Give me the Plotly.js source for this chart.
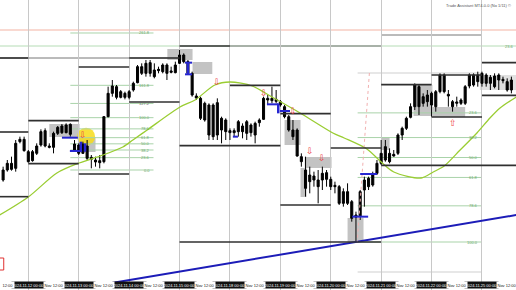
<!DOCTYPE html>
<html>
<head>
<meta charset="utf-8">
<script src="https://cdn.plot.ly/plotly-3.0.1.min.js"></script>
<style>
html,body{margin:0;padding:0;background:#fff;}
#chart{width:516px;height:290px;}
</style>
</head>
<body>
<div id="chart"></div>
<script>
// H2 candles, price in points
const opens  = [330,360,380,365,445,452,415,388,410,435,478,432,428,470,472,495,497,438,435,410,432,398,390,382,385,520,590,610,578,590,578,600,622,650,650,682,660,658,655,675,653,652,680,705,685,650,582,575,560,555,460,562,480,510,478,472,475,492,470,495,465,502,512,575,568,572,565,550,520,480,480,400,360,325,342,330,330,352,332,314,310,295,260,265,218,220,300,310,315,350,380,390,410,402,410,465,485,518,550,610,560,565,590,550,595,645,587,565,560,560,560,612,615,645,620,645,620,642,630,632,625,600];
const highs  = [370,390,400,450,460,460,420,420,440,482,485,440,475,492,498,500,500,450,440,445,450,405,400,405,522,610,630,615,600,595,600,625,675,680,690,690,680,670,680,680,670,685,720,710,690,655,590,580,565,560,560,575,520,515,485,485,510,500,510,500,505,515,580,585,610,600,570,555,525,510,485,410,400,370,355,360,370,360,340,325,315,305,320,270,235,300,340,340,355,390,450,450,425,420,470,490,520,560,620,615,590,600,595,600,650,650,600,570,580,575,615,650,650,655,655,650,645,650,650,640,635,640];
const lows   = [325,355,358,355,440,415,382,385,405,430,428,425,410,465,468,470,460,415,405,408,390,365,370,365,380,518,580,572,575,572,572,595,620,645,640,640,635,650,650,630,650,650,678,680,645,580,570,510,505,450,450,450,440,450,450,460,460,455,450,460,440,490,510,555,560,560,550,515,475,450,400,370,280,290,310,260,300,310,300,290,255,250,255,205,145,210,250,300,310,345,375,385,380,400,405,450,480,515,540,525,550,550,520,535,590,590,550,535,550,555,555,605,610,610,610,610,600,605,600,620,595,590];
const closes = [360,380,362,440,452,418,385,415,432,475,432,428,470,488,492,472,467,420,410,438,395,392,384,388,520,590,612,578,595,578,595,620,670,670,680,650,640,662,675,650,657,675,705,685,650,585,576,515,510,465,555,465,515,475,472,478,505,475,505,472,500,510,575,570,575,566,555,520,480,460,402,385,305,345,330,310,350,332,310,310,260,260,295,215,225,295,330,335,345,380,410,430,385,407,465,485,515,550,615,550,580,585,555,595,645,595,582,550,564,570,610,645,645,625,650,620,638,610,645,628,600,630];

// moving average (read at selected bars)
const maIdx = [-0.8,6,12.8,18.1,23.8,28.5,30.9,34.3,42.1,45.7,50.4,54,59.3,64,70.7,78.5,81.2,86.6,90,93,99.5,102.4,105,108.8,112.8,115.9,118.3,122.2];
const maVal = [225,279,351,381,405,429,450,480,549,570,615,624,612,579,531,471,456,423,384,354,336,354,372,420,471,516,546,579];

// day separators and time labels
const daySep = [6,18,30,42,54,66,78,90,102,114];
const dayLabels = ['2024.11.12 00:00','2024.11.13 00:00','2024.11.14 00:00','2024.11.15 00:00','2024.11.18 00:00','2024.11.19 00:00','2024.11.20 00:00','2024.11.21 00:00','2024.11.22 00:00','2024.11.25 00:00'];
const midPos = [12,24,36,48,60,72,84,96,108,120];
const midLabels = ['Nov 12:00','Nov 12:00','Nov 12:00','Nov 12:00','Nov 12:00','Nov 12:00','Nov 12:00','Nov 12:00','Nov 12:00','Nov 12:00'];
const firstLabel = '12:00';

// daily high/low levels: [fromBar, toBar, price]
const dayLevels = [[-1,6,696],[-1,6,474],[-1,6,280],[6,18,508],[6,18,379],[18,30,669],[18,30,348],[30,42,696],[30,42,564],[42,54,732],[42,66,433],[54,66,614],[66,78,529],[66,78,255],[78,90,426],[42,90,144],[90,102,616],[90,123,374],[102,114,645],[102,114,519],[114,123,682],[114,123,584]];
const thinLevels = [[-1,42,696],[54,90,732],[90,114,765]];

// fibonacci sets
const fibA = {from:16, to:35.8, p0:360, p100:517, levels:[0,23.6,38.2,50,61.8,78.6,100,127.2,161.8,261.8]};
const fibB = {from:84.4, to:113.9, p0:651, p100:144, levels:[0,23.6,38.2,50,61.8,78.6,100]};
const fibBExtra = 54;

// zones: [x0, x1, p0, p1]
const zones = [[11,18.2,459,498],[18.2,22,414,459],[39.1,45.1,690,723],[45.1,49.8,648,684],[67,70.8,435,510],[71.8,78.2,366,399],[70.8,72.2,279,366],[82,85.8,144,216],[90,92,420,459],[97.7,102.2,522,615],[102.2,110,519,549]];
const lightZones = [[113.5,122.4,600,645]];

// signal marks: [x0, x1, price]
const blueMarks = [[14,17.8,457],[15.9,18.8,417],[43.3,45,682],[43.3,45,647],[62.8,65.4,557],[65.9,68.3,537],[54.7,55.9,460],[85,89,348],[83.1,86.9,220]];
const blueStems = [[44,645,684],[18.5,420,445],[19.5,415,440],[65.5,530,560]];
const arrowsDown = [[18.9,465],[51,624],[62,591],[69.1,537],[73,417],[76,396]];
const arrowsUp = [[107,501]];

const trend = {x:[20.2,122.2], p:[9,225]};
const fibAnchor = {x:[87.2,84.3], p:[651,144]};
const hiLine = 780, greenLine = 732;

const idx = opens.map((_, i) => i);
const XR = [-0.74, 122.1];

const traces = [];
traces.push({
  type:'scatter', mode:'lines', x:maIdx, y:maVal,
  line:{color:'#9acd32', width:1.3, shape:'spline', smoothing:0.8},
  hoverinfo:'skip'
});
traces.push({
  type:'scatter', mode:'lines', x:trend.x, y:trend.p,
  line:{color:'#1c1cb8', width:2}, hoverinfo:'skip'
});
traces.push({
  type:'scatter', mode:'lines', x:fibAnchor.x, y:fibAnchor.p,
  line:{color:'#f2b0b0', width:1, dash:'dot'}, hoverinfo:'skip'
});
traces.push({
  type:'candlestick', x:idx, open:opens, high:highs, low:lows, close:closes,
  increasing:{line:{color:'#000', width:1}, fillcolor:'#000'},
  decreasing:{line:{color:'#000', width:1}, fillcolor:'#000'},
  whiskerwidth:0, hoverinfo:'skip'
});

const shapes = [];
// price lines across the whole window
shapes.push({type:'line', xref:'paper', x0:0, x1:1, y0:hiLine, y1:hiLine, line:{color:'#f3b3a3', width:1}, layer:'below'});
shapes.push({type:'line', xref:'paper', x0:0, x1:1, y0:greenLine, y1:greenLine, line:{color:'#b5dcb5', width:1}, layer:'below'});

zones.forEach(z => shapes.push({type:'rect', x0:z[0], x1:z[1], y0:z[2], y1:z[3], fillcolor:'#bdbdbd', opacity:0.9, line:{width:0}, layer:'below'}));
lightZones.forEach(z => shapes.push({type:'rect', x0:z[0], x1:z[1], y0:z[2], y1:z[3], fillcolor:'#dedede', opacity:0.9, line:{width:0}, layer:'below'}));

// yellow highlight
shapes.push({type:'circle', x0:17.6, x1:21.9, y0:433, y1:487, fillcolor:'#f7dc1a', opacity:0.85, line:{width:0}, layer:'below'});

function fibPrice(f, l){ return f.p0 + (f.p100 - f.p0) * l / 100; }
const annotations = [];
[fibA, fibB].forEach(f => {
  f.levels.forEach(l => {
    const p = fibPrice(f, l);
    shapes.push({type:'line', x0:f.from, x1:f.to, y0:p, y1:p, line:{color:(f===fibB && l===0)?'#cfcfcf':'#a9d3a9', width:1}, layer:'below'});
    if (!(f===fibB && l===0)) {
      annotations.push({x:f.to - 0.4, y:p, xanchor:'right', yanchor:'middle', text:l.toFixed(1), showarrow:false,
        font:{family:'Liberation Sans', size:4, color:(f===fibA && l===127.2)?'#666':'#6aa86a'}});
    }
  });
});
shapes.push({type:'line', x0:fibB.from, x1:fibB.to, y0:fibBExtra, y1:fibBExtra, line:{color:'#cfcfcf', width:1}, layer:'below'});
annotations.push({xref:'paper', x:1, y:greenLine, xanchor:'right', yanchor:'middle', text:'23.6', showarrow:false, font:{family:'Liberation Sans', size:4, color:'#6aa86a'}});

thinLevels.forEach(l => shapes.push({type:'line', x0:l[0], x1:l[1], y0:l[2], y1:l[2], line:{color:'#777', width:1}, layer:'below'}));
dayLevels.forEach(l => shapes.push({type:'line', x0:l[0], x1:l[1], y0:l[2], y1:l[2], line:{color:'#303030', width:1.6}}));

blueMarks.forEach(b => shapes.push({type:'line', x0:b[0], x1:b[1], y0:b[2], y1:b[2], line:{color:'#2626d0', width:2}}));
blueStems.forEach(b => shapes.push({type:'line', x0:b[0], x1:b[0], y0:b[1], y1:b[2], line:{color:'#2626d0', width:2.5}}));

// small red box at bottom left
shapes.push({type:'rect', x0:-0.9, x1:0.15, y0:60, y1:96, line:{color:'#e03030', width:1}, fillcolor:'#fff'});

arrowsDown.forEach(a => annotations.push({x:a[0], y:a[1], text:'⇩', showarrow:false, font:{family:'DejaVu Sans', size:9, color:'#e44'}}));
arrowsUp.forEach(a => annotations.push({x:a[0], y:a[1], text:'⇧', showarrow:false, font:{family:'DejaVu Sans', size:9, color:'#e44'}}));

daySep.forEach((d, k) => annotations.push({x:d, yref:'paper', y:0.002, xanchor:'center', yanchor:'bottom', text:dayLabels[k], showarrow:false,
  bgcolor:'#111', borderpad:0.5, font:{family:'Liberation Sans', size:4, color:'#fff'}}));
midPos.forEach((d, k) => annotations.push({x:d, yref:'paper', y:0.002, xanchor:'center', yanchor:'bottom', text:midLabels[k], showarrow:false,
  bgcolor:'#fff', borderpad:0.5, font:{family:'Liberation Sans', size:4, color:'#222'}}));
annotations.push({xref:'paper', x:0.002, yref:'paper', y:0.002, xanchor:'left', yanchor:'bottom', text:firstLabel, showarrow:false,
  bgcolor:'#fff', borderpad:0.5, font:{family:'Liberation Sans', size:4, color:'#222'}});

annotations.push({xref:'paper', yref:'paper', x:0.995, y:0.995, xanchor:'right', yanchor:'top', text:'Trade Assistant MT4-0.0 (No 1/11) ©', showarrow:false,
  font:{family:'Liberation Sans', size:4, color:'#555'}});

const layout = {
  width:516, height:290,
  margin:{l:0, r:0, t:0, b:0},
  paper_bgcolor:'#fff', plot_bgcolor:'#fff',
  showlegend:false,
  xaxis:{range:XR, tickvals:daySep, showticklabels:false, ticks:'', showgrid:true, gridcolor:'#c8c8c8', gridwidth:1,
         zeroline:false, showline:false, rangeslider:{visible:false}, fixedrange:true},
  yaxis:{range:[0,870], showticklabels:false, ticks:'', showgrid:false, zeroline:false, showline:false, fixedrange:true},
  shapes:shapes,
  annotations:annotations,
  hovermode:false
};

Plotly.newPlot('chart', traces, layout, {staticPlot:true, displayModeBar:false});
</script>
</body>
</html>
